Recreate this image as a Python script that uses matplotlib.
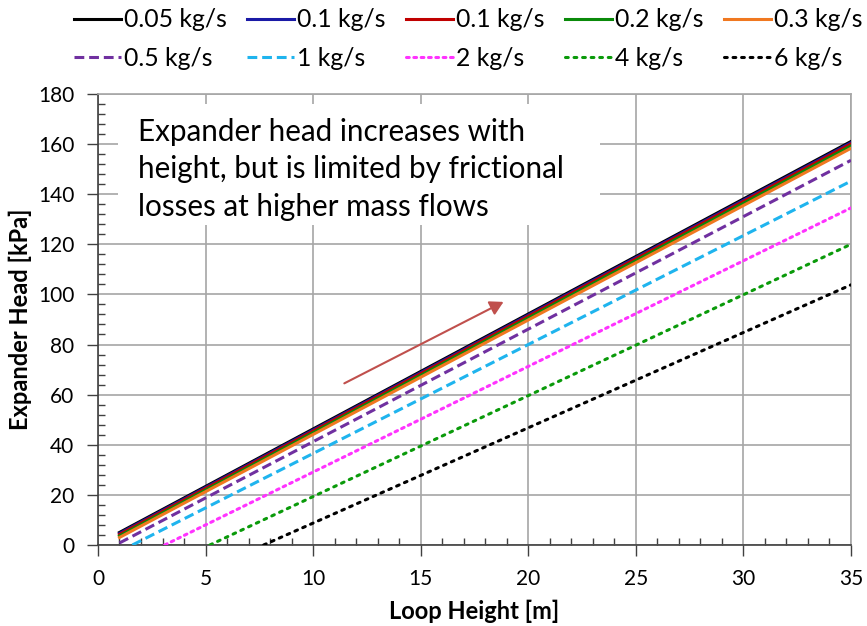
import numpy as np
import matplotlib.pyplot as plt
import matplotlib.patches as patches
from matplotlib.ticker import MultipleLocator

plt.rcParams['font.family'] = ['Lato', 'DejaVu Sans']

# series: mass flow labels, start/end points
labels = ['0.05 kg/s', '0.1 kg/s', '0.1 kg/s', '0.2 kg/s', '0.3 kg/s',
          '0.5 kg/s', '1 kg/s', '2 kg/s', '4 kg/s', '6 kg/s']
x_start = [1.0, 1.0, 1.0, 1.0, 1.0, 1.0, 1.6, 3.1, 5.2, 7.7]
x_end = [35, 35, 35, 35, 35, 35, 35, 35, 35, 35]
y_start = [5.0, 4.6, 4.2, 3.6, 3.0, 0.8, 0.0, 0.0, 0.0, 0.0]
y_end = [161.0, 160.5, 160.0, 159.2, 158.3, 153.5, 145.2, 134.5, 120.0, 103.8]

colors = ['#000000', '#1a1aa6', '#c00000', '#0a8a0a', '#f07820',
          '#7030a0', '#1fb4ee', '#ff33ff', '#0a9a0a', '#000000']
styles = ['-', '-', '-', '-', '-',
          (0, (3.2, 1.6)), (0, (3.2, 1.6)), (0, (0.9, 1.5)), (0, (0.9, 1.9)), (0, (0.9, 1.9))]

dpi = 100
fig = plt.figure(figsize=(867 / dpi, 626 / dpi), dpi=dpi)
ax = fig.add_axes([0.113, 0.1294, 0.8685, 0.7206])

handles = []
for i in range(len(labels)):
    dotted = styles[i][1][0] < 1 if isinstance(styles[i], tuple) else False
    h, = ax.plot([x_start[i], x_end[i]], [y_start[i], y_end[i]], color=colors[i],
                 linestyle=styles[i], linewidth=2.2,
                 dash_capstyle='round' if dotted else 'butt', zorder=3)
    handles.append(h)

ax.set_xlim(0, 35)
ax.set_ylim(0, 180)
ax.xaxis.set_major_locator(MultipleLocator(5))
ax.xaxis.set_minor_locator(MultipleLocator(1))
ax.yaxis.set_major_locator(MultipleLocator(20))
ax.yaxis.set_minor_locator(MultipleLocator(4))
ax.grid(True, which='major', color='#a6a6a6', linewidth=1.2, zorder=0)
ax.set_axisbelow(True)
ax.tick_params(which='major', direction='out', length=8, width=1, color='#404040',
               labelsize=15, pad=9)
ax.tick_params(which='minor', direction='in', length=5, width=1, color='#404040')
for s in ['top', 'right']:
    ax.spines[s].set_color('#a6a6a6')
    ax.spines[s].set_linewidth(1.2)
for s in ['left', 'bottom']:
    ax.spines[s].set_color('#404040')
    ax.spines[s].set_linewidth(1.2)

ax.set_xlabel('Loop Height [m]', fontsize=17, fontweight='bold', labelpad=8)
ax.set_ylabel('Expander Head [kPa]', fontsize=17, fontweight='bold')
ax.yaxis.set_label_coords(-0.088, 0.5)

# white box behind the note hides the grid
box = patches.Rectangle((0.93, 127.5), 22.4, 48.5, facecolor='white', edgecolor='none', zorder=1)
ax.add_patch(box)
ax.text(1.85, 170.5, 'Expander head increases with\nheight, but is limited by frictional\nlosses at higher mass flows',
        fontsize=21.3, va='top', ha='left', linespacing=1.42, zorder=2)

ax.annotate('', xy=(18.85, 97), xytext=(11.45, 64.5),
            arrowprops=dict(arrowstyle='-|>,head_length=0.8,head_width=0.45',
                            color='#c0504d', linewidth=1.5, shrinkA=0, shrinkB=0))

# legend filled row by row
order = [0, 5, 1, 6, 2, 7, 3, 8, 4, 9]
fig.legend([handles[k] for k in order], [labels[k] for k in order], ncol=5,
           loc='upper center', bbox_to_anchor=(0.54, 1.022), frameon=False,
           fontsize=17.8, handlelength=1.9, handletextpad=0.1, columnspacing=0.85,
           labelspacing=0.62)

fig.savefig('out.png', dpi=dpi)
